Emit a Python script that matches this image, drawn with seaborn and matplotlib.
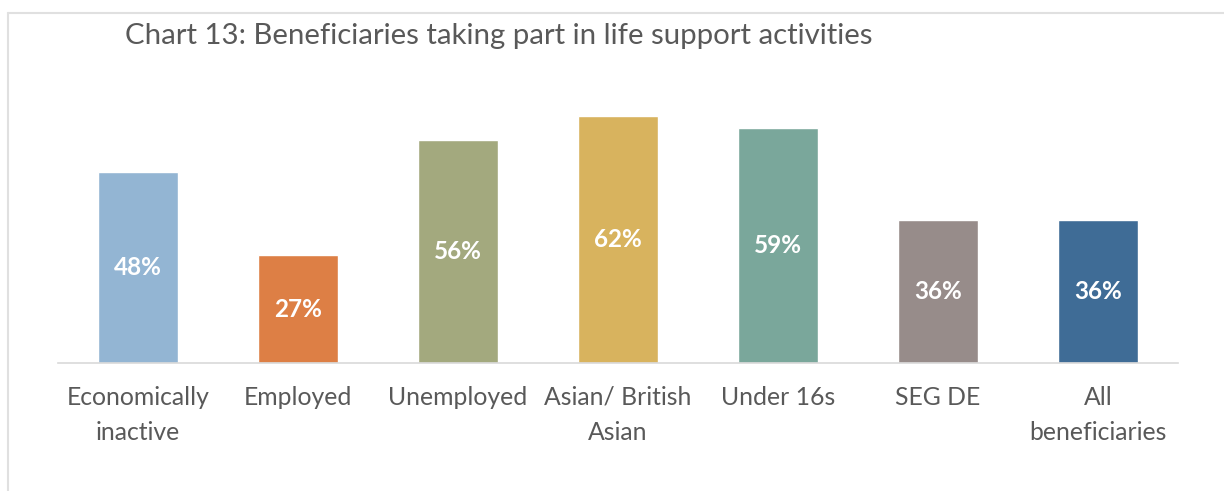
import matplotlib
matplotlib.use("Agg")
import matplotlib.pyplot as plt
import seaborn as sns
import pandas as pd
from matplotlib.lines import Line2D

categories = ["Economically\ninactive", "Employed", "Unemployed", "Asian/ British\nAsian",
              "Under 16s", "SEG DE", "All\nbeneficiaries"]
values = [48, 27, 56, 62, 59, 36, 36]
colors = ["#93B5D3", "#DD7F45", "#A3A97E", "#D8B35E", "#7AA79B", "#978C8A", "#3F6C96"]
title = "Chart 13: Beneficiaries taking part in life support activities"

sns.set_theme(style="white")
plt.rcParams["font.family"] = ["Lato", "DejaVu Sans"]

fig = plt.figure(figsize=(12.24, 4.91), dpi=100)
ax = fig.add_axes([58/1224, 1 - 363/491, (1178-58)/1224, (363-84)/491])

df = pd.DataFrame({"cat": categories, "val": values})
sns.barplot(data=df, x="cat", y="val", hue="cat", palette=colors, legend=False,
            width=0.5, saturation=1, ax=ax)

for cont in ax.containers:
    ax.bar_label(cont, labels=[f"{v:.0f}%" for v in cont.datavalues], label_type="center",
                 color="white", fontweight="bold", fontsize=17.5)

ax.set_ylim(0, 70)
ax.set_xlim(-0.5, 6.5)
ax.set_yticks([])
ax.set_xlabel("")
ax.set_ylabel("")
for s in ["top", "right", "left"]:
    ax.spines[s].set_visible(False)
ax.spines["bottom"].set_color("#D9D9D9")
ax.spines["bottom"].set_linewidth(1.2)
ax.tick_params(axis="x", length=0, pad=16.5, labelsize=17.8, labelcolor="#595959")
for t in ax.get_xticklabels():
    t.set_linespacing(1.62)

fig.text(125/1224, 1 - 36/491, title, fontsize=21.2, color="#595959", va="center", ha="left")

# chart border (top and left visible)
fig.add_artist(Line2D([8/1224, 8/1224], [0, 1 - 12.5/491], transform=fig.transFigure,
                      color="#E0E0E0", lw=1.5))
fig.add_artist(Line2D([8/1224, 1], [1 - 12.5/491, 1 - 12.5/491], transform=fig.transFigure,
                      color="#E0E0E0", lw=1.5))

fig.savefig("out.png", dpi=100)
